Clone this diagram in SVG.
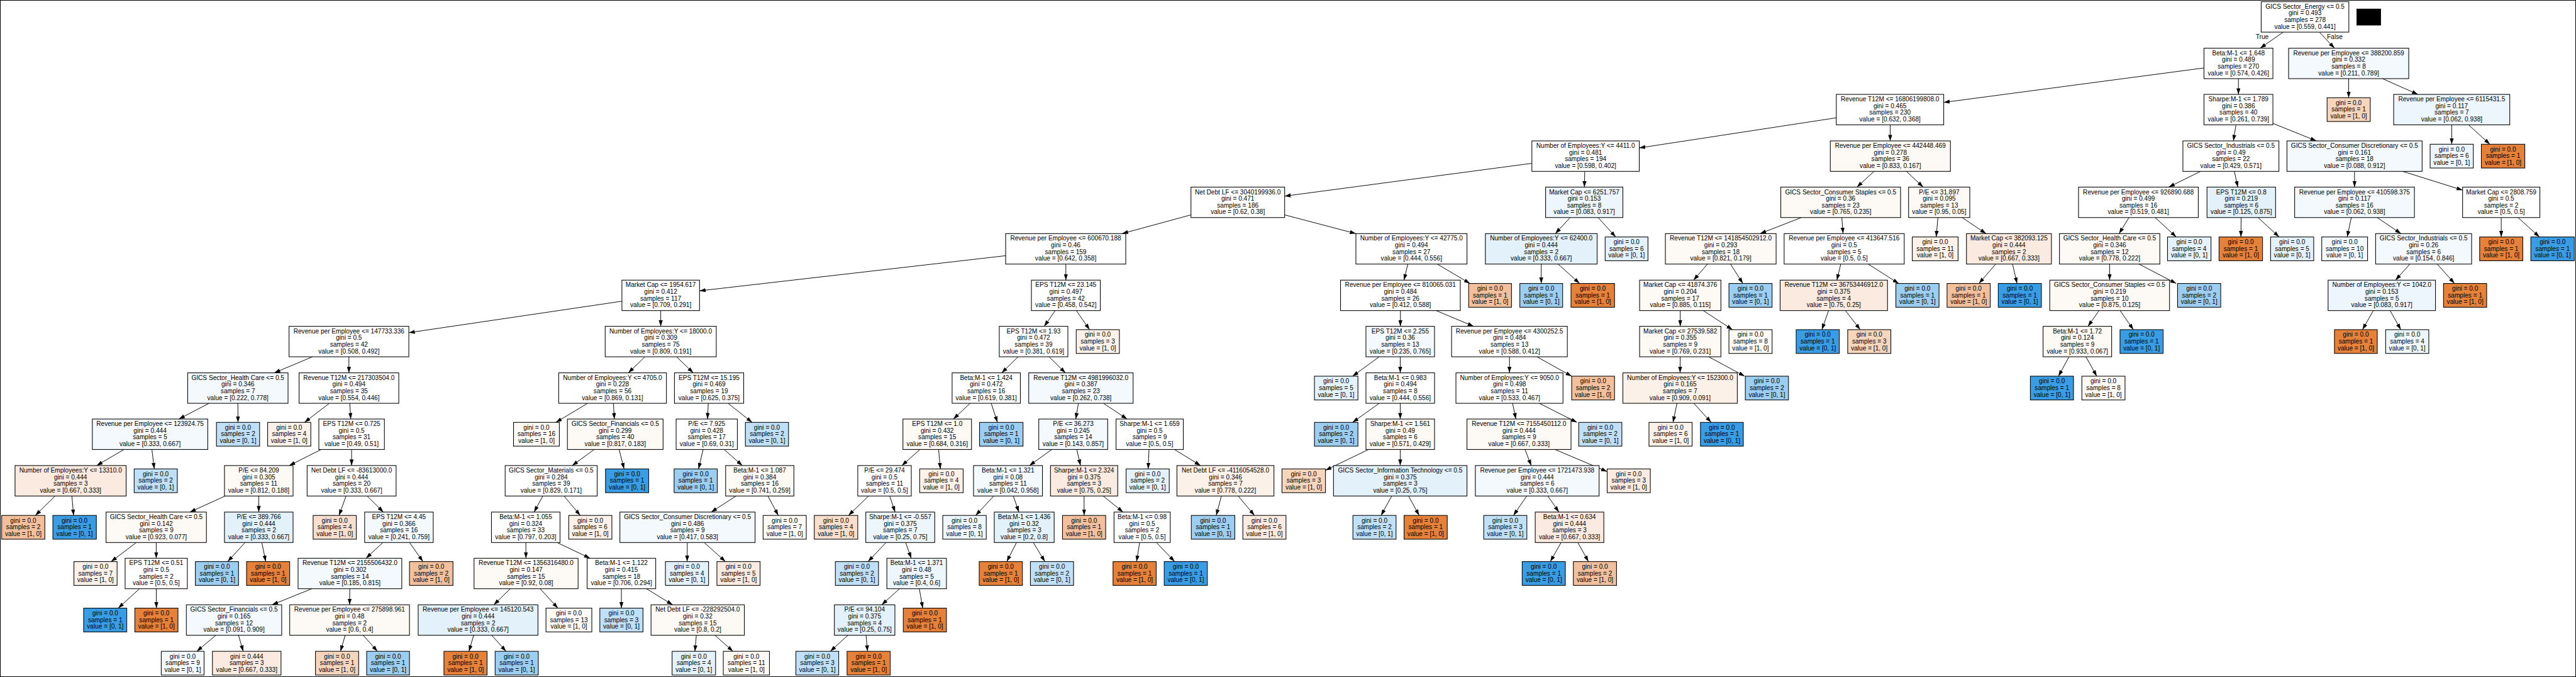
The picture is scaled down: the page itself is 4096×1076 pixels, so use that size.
<svg xmlns="http://www.w3.org/2000/svg" width="4096" height="1076" viewBox="0 0 4096 1076">
<style>
rect{stroke:#000;stroke-width:2}
text{font-family:"Liberation Sans",Arial,Helvetica,sans-serif;font-size:19px;text-anchor:middle;fill:#000}
.e{stroke:#000;stroke-width:1.8;fill:none;marker-end:url(#ah)}
.w{fill:#ffffff}.o1{fill:#fdf9f5}.o2{fill:#fcf1e9}.o3{fill:#fbeadf}.o4{fill:#f8dfcd}.o5{fill:#f6d5bd}.o6{fill:#f2c09c}.o7{fill:#e58139}
.b1{fill:#f4f9fe}.b2{fill:#edf6fd}.b3{fill:#e3f1fb}.b4{fill:#c0e0f7}.b5{fill:#9ccef2}.b6{fill:#399de5}
.blk{fill:#000;stroke:none}
</style>
<defs>
<marker id="ah" viewBox="0 0 18 12" refX="18" refY="6" markerWidth="18" markerHeight="12" markerUnits="userSpaceOnUse" orient="auto"><path d="M0,0 L18,6 L0,12 z" fill="#000"/></marker>
</defs>
<rect width="4096" height="1076" fill="#fff" stroke="none"/>
<g transform="scale(0.531948)">
<g id="connectors">
<path class="e" d="M6825,96L6756,144"/><path class="e" d="M6933,96L6978,144"/>
<path class="e" d="M6588,203L5810,306"/><path class="e" d="M6691,235L6691,282"/>
<path class="e" d="M7020.5,235L7020.5,292"/><path class="e" d="M7121.5,235L7227.5,282"/>
<path class="e" d="M5489,352L4900,442"/><path class="e" d="M5650,373L5650,421"/>
<path class="e" d="M6683.6,373L6675.9,421"/><path class="e" d="M6794,368.6L6924,421"/>
<path class="e" d="M7328.5,373L7328.5,431"/><path class="e" d="M7378.8,373L7442.7,431"/>
<path class="e" d="M4579,488L3840,586"/><path class="e" d="M4737,512L4736,559"/>
<path class="e" d="M5601.8,512L5550.7,559"/><path class="e" d="M5698.4,512L5748.6,559"/>
<path class="e" d="M6577.8,512L6482.7,559"/><path class="e" d="M6678.7,512L6689.3,559"/>
<path class="e" d="M7038,512L7038,559"/><path class="e" d="M7181.8,512L7361,568"/>
<path class="e" d="M3560,642L3354,698"/><path class="e" d="M3840,642L4053,698"/>
<path class="e" d="M4693.4,650L4649.1,698"/><path class="e" d="M4777,650L4829.6,708"/>
<path class="e" d="M5384.4,650L5261.1,698"/><path class="e" d="M5505.4,650L5509.1,698"/>
<path class="e" d="M5792.6,650L5787.6,708"/><path class="e" d="M5864.9,650L5936.6,698"/>
<path class="e" d="M6363.8,650L6334.2,698"/><path class="e" d="M6441.9,650L6505.1,708"/>
<path class="e" d="M6699,650L6698.4,708"/><path class="e" d="M6749.4,650L6812.6,708"/>
<path class="e" d="M7028.3,650L7016.1,708"/><path class="e" d="M7105.7,650L7176.8,698"/>
<path class="e" d="M7476.5,650L7476.5,708"/><path class="e" d="M7526.8,650L7590.7,708"/>
<path class="e" d="M3006,764L2091,869"/><path class="e" d="M3186,789L3186,837"/>
<path class="e" d="M4208.2,789L4196.8,837"/><path class="e" d="M4296.1,789L4393.8,847"/>
<path class="e" d="M4607,789L4607,847"/><path class="e" d="M4657.5,789L4721.6,847"/>
<path class="e" d="M5103.8,789L5062.2,837"/><path class="e" d="M5172.7,789L5209.7,847"/>
<path class="e" d="M5502.3,789L5490.7,837"/><path class="e" d="M5584.3,789L5675.4,847"/>
<path class="e" d="M5965.5,789L5915.3,847"/><path class="e" d="M6015.7,789L6029.2,847"/>
<path class="e" d="M6306,789L6306,837"/><path class="e" d="M6393.7,789L6505,847"/>
<path class="e" d="M7203.5,789L7160.5,837"/><path class="e" d="M7285.2,789L7336.8,847"/>
<path class="e" d="M1859,900L1222,994"/><path class="e" d="M1975,928L1975,975"/>
<path class="e" d="M3154.3,928L3121.2,975"/><path class="e" d="M3217.3,928L3257,985"/>
<path class="e" d="M4186,928L4186,975"/><path class="e" d="M4292.9,928L4405.1,975"/>
<path class="e" d="M5022.5,928L5022.5,975"/><path class="e" d="M5091.4,928L5178.7,985"/>
<path class="e" d="M5465.8,928L5445.8,985"/><path class="e" d="M5516.3,928L5560.4,985"/>
<path class="e" d="M6274.3,928L6241.2,975"/><path class="e" d="M6337.3,928L6377,985"/>
<path class="e" d="M7094.1,928L7061.8,985"/><path class="e" d="M7144.4,928L7176.4,985"/>
<path class="e" d="M934.1,1066L819.9,1114"/><path class="e" d="M1043,1066L1043,1114"/>
<path class="e" d="M1927.8,1066L1878.2,1114"/><path class="e" d="M2022.4,1066L2072.1,1114"/>
<path class="e" d="M3043.1,1066L2994.4,1114"/><path class="e" d="M3135.9,1066L3184.6,1114"/>
<path class="e" d="M4122.7,1066L4043,1124"/><path class="e" d="M4185.5,1066L4185.5,1114"/>
<path class="e" d="M4512,1066L4512,1114"/><path class="e" d="M4594,1066L4698,1124"/>
<path class="e" d="M5022.5,1066L5022,1114"/><path class="e" d="M5107.5,1066L5215.2,1124"/>
<path class="e" d="M6184.6,1066L6153,1124"/><path class="e" d="M6235.1,1066L6267.5,1124"/>
<path class="e" d="M624.9,1205L534.6,1252"/><path class="e" d="M711,1205L711.5,1262"/>
<path class="e" d="M984.5,1205L910.2,1262"/><path class="e" d="M1045.6,1205L1048.4,1252"/>
<path class="e" d="M1756.4,1205L1661.7,1262"/><path class="e" d="M1833.6,1205L1836.4,1252"/>
<path class="e" d="M2117.2,1205L2114.8,1252"/><path class="e" d="M2176.2,1205L2248.2,1262"/>
<path class="e" d="M2900,1205L2849.6,1252"/><path class="e" d="M2962.8,1205L2981.5,1262"/>
<path class="e" d="M3223.5,1205L3215.5,1252"/><path class="e" d="M3298.4,1205L3369.1,1252"/>
<path class="e" d="M4122.7,1205L4043,1262"/><path class="e" d="M4185.5,1205L4185.5,1252"/>
<path class="e" d="M4521.3,1205L4531.2,1252"/><path class="e" d="M4601.1,1205L4714,1262"/>
<path class="e" d="M5012.7,1205L5000.8,1262"/><path class="e" d="M5063,1205L5115,1262"/>
<path class="e" d="M370.6,1343L288.9,1391"/><path class="e" d="M454.1,1343L461.1,1401"/>
<path class="e" d="M960,1343L864.5,1391"/><path class="e" d="M1051,1343L1051,1391"/>
<path class="e" d="M1776.2,1343L1710.3,1391"/><path class="e" d="M1850.6,1343L1865.4,1401"/>
<path class="e" d="M2101.7,1343L2088,1401"/><path class="e" d="M2164.5,1343L2219,1391"/>
<path class="e" d="M2749.8,1343L2695.7,1391"/><path class="e" d="M2805.6,1343L2810.8,1401"/>
<path class="e" d="M3144,1343L3077,1391"/><path class="e" d="M3218.7,1343L3229.8,1391"/>
<path class="e" d="M3434.5,1343L3432,1401"/><path class="e" d="M3510.8,1343L3588.7,1391"/>
<path class="e" d="M4090.9,1343L3962,1405"/><path class="e" d="M4185.5,1343L4185.5,1391"/>
<path class="e" d="M4558.4,1343L4577.1,1391"/><path class="e" d="M4648.1,1343L4804,1409"/>
<path class="e" d="M164.6,1482L105.7,1540"/><path class="e" d="M214.9,1482L219.9,1540"/>
<path class="e" d="M673,1482L567.5,1530"/><path class="e" d="M773.5,1482L773.5,1530"/>
<path class="e" d="M1034.4,1482L1013.4,1540"/><path class="e" d="M1097.4,1482L1146.1,1530"/>
<path class="e" d="M1622.6,1482L1596.4,1530"/><path class="e" d="M1685.9,1482L1734.5,1540"/>
<path class="e" d="M2200.2,1482L2125.8,1530"/><path class="e" d="M2295.4,1482L2326.4,1540"/>
<path class="e" d="M2596.4,1482L2536.1,1540"/><path class="e" d="M2659.4,1482L2675.6,1530"/>
<path class="e" d="M2970.4,1482L2916.3,1540"/><path class="e" d="M3028.9,1482L3045.6,1530"/>
<path class="e" d="M3240.5,1482L3240.5,1540"/><path class="e" d="M3297.4,1482L3357.1,1530"/>
<path class="e" d="M3650.9,1482L3635.5,1540"/><path class="e" d="M3701.2,1482L3749.7,1540"/>
<path class="e" d="M4160.2,1482L4128.2,1540"/><path class="e" d="M4210.4,1482L4242.1,1540"/>
<path class="e" d="M4563.7,1482L4523.9,1540"/><path class="e" d="M4626.7,1482L4659.8,1530"/>
<path class="e" d="M407.5,1621L332,1678"/><path class="e" d="M467,1621L467,1668"/>
<path class="e" d="M732.5,1621L680.5,1678"/><path class="e" d="M782.7,1621L794.3,1678"/>
<path class="e" d="M1144.4,1621L1094.1,1668"/><path class="e" d="M1224.2,1621L1264.3,1678"/>
<path class="e" d="M1571.8,1621L1572.2,1668"/><path class="e" d="M1665.3,1621L1763.7,1668"/>
<path class="e" d="M2054.5,1621L2053.9,1678"/><path class="e" d="M2105,1621L2168.5,1678"/>
<path class="e" d="M2648.5,1621L2594.7,1678"/><path class="e" d="M2707.1,1621L2723.9,1668"/>
<path class="e" d="M3038.5,1621L3009.4,1678"/><path class="e" d="M3088.7,1621L3123.3,1678"/>
<path class="e" d="M3406.6,1621L3397.3,1678"/><path class="e" d="M3456.8,1621L3511.1,1678"/>
<path class="e" d="M4666.2,1621L4634.2,1678"/><path class="e" d="M4716.4,1621L4748.1,1678"/>
<path class="e" d="M417,1759L353.5,1817"/><path class="e" d="M467,1759L467.5,1817"/>
<path class="e" d="M932.3,1759L813.2,1807"/><path class="e" d="M1045.5,1759L1045,1807"/>
<path class="e" d="M1525.4,1759L1476.1,1807"/><path class="e" d="M1614.5,1759L1667.7,1817"/>
<path class="e" d="M1857.5,1759L1857.5,1817"/><path class="e" d="M1932.3,1759L2010.7,1807"/>
<path class="e" d="M2689,1759L2635.5,1807"/><path class="e" d="M2748,1759L2758.2,1817"/>
<path class="e" d="M645.3,1898L588.2,1946"/><path class="e" d="M712.9,1898L727.1,1946"/>
<path class="e" d="M1031.8,1898L1017.8,1946"/><path class="e" d="M1085.6,1898L1128.4,1946"/>
<path class="e" d="M1415.8,1898L1401.8,1946"/><path class="e" d="M1469.8,1898L1512.7,1946"/>
<path class="e" d="M2081.4,1898L2077.2,1946"/><path class="e" d="M2136.9,1898L2191,1946"/>
<path class="e" d="M2534.5,1898L2481.9,1946"/><path class="e" d="M2588.7,1898L2593.2,1946"/>
<text x="6762" y="116">True</text><text x="6979" y="116">False</text>
</g>
<rect class="blk" x="7044" y="26" width="73" height="50"/>
<g id="n0"><rect class="w" x="6759" y="5" width="262" height="91"/><text x="6890" y="26"><tspan x="6890">GICS Sector_Energy &lt;= 0.5</tspan><tspan x="6890" dy="20">gini = 0.493</tspan><tspan x="6890" dy="20">samples = 278</tspan><tspan x="6890" dy="20">value = [0.559, 0.441]</tspan></text></g>
<g id="n1"><rect class="w" x="6588" y="144" width="206" height="91"/><text x="6691" y="165"><tspan x="6691">Beta:M-1 &lt;= 1.648</tspan><tspan x="6691" dy="20">gini = 0.489</tspan><tspan x="6691" dy="20">samples = 270</tspan><tspan x="6691" dy="20">value = [0.574, 0.426]</tspan></text></g>
<g id="n2"><rect class="b1" x="6841" y="144" width="359" height="91"/><text x="7020.5" y="165"><tspan x="7020.5">Revenue per Employee &lt;= 388200.859</tspan><tspan x="7020.5" dy="20">gini = 0.332</tspan><tspan x="7020.5" dy="20">samples = 8</tspan><tspan x="7020.5" dy="20">value = [0.211, 0.789]</tspan></text></g>
<g id="n3"><rect class="w" x="5489" y="282" width="321" height="91"/><text x="5649.5" y="303"><tspan x="5649.5">Revenue T12M &lt;= 16806199808.0</tspan><tspan x="5649.5" dy="20">gini = 0.465</tspan><tspan x="5649.5" dy="20">samples = 230</tspan><tspan x="5649.5" dy="20">value = [0.632, 0.368]</tspan></text></g>
<g id="n4"><rect class="w" x="6588" y="282" width="206" height="91"/><text x="6691" y="303"><tspan x="6691">Sharpe:M-1 &lt;= 1.789</tspan><tspan x="6691" dy="20">gini = 0.386</tspan><tspan x="6691" dy="20">samples = 40</tspan><tspan x="6691" dy="20">value = [0.261, 0.739]</tspan></text></g>
<g id="n5"><rect class="o5" x="6956" y="292" width="129" height="71"/><text x="7020.5" y="313.5"><tspan x="7020.5">gini = 0.0</tspan><tspan x="7020.5" dy="20">samples = 1</tspan><tspan x="7020.5" dy="20">value = [1, 0]</tspan></text></g>
<g id="n6"><rect class="b2" x="7155" y="282" width="347" height="91"/><text x="7328.5" y="303"><tspan x="7328.5">Revenue per Employee &lt;= 6115431.5</tspan><tspan x="7328.5" dy="20">gini = 0.117</tspan><tspan x="7328.5" dy="20">samples = 7</tspan><tspan x="7328.5" dy="20">value = [0.062, 0.938]</tspan></text></g>
<g id="n7"><rect class="w" x="4579" y="421" width="321" height="91"/><text x="4739.5" y="442"><tspan x="4739.5">Number of Employees:Y &lt;= 4411.0</tspan><tspan x="4739.5" dy="20">gini = 0.481</tspan><tspan x="4739.5" dy="20">samples = 194</tspan><tspan x="4739.5" dy="20">value = [0.598, 0.402]</tspan></text></g>
<g id="n8"><rect class="o1" x="5471" y="421" width="359" height="91"/><text x="5650.5" y="442"><tspan x="5650.5">Revenue per Employee &lt;= 442448.469</tspan><tspan x="5650.5" dy="20">gini = 0.278</tspan><tspan x="5650.5" dy="20">samples = 36</tspan><tspan x="5650.5" dy="20">value = [0.833, 0.167]</tspan></text></g>
<g id="n9"><rect class="w" x="6525" y="421" width="287" height="91"/><text x="6668.5" y="442"><tspan x="6668.5">GICS Sector_Industrials &lt;= 0.5</tspan><tspan x="6668.5" dy="20">gini = 0.49</tspan><tspan x="6668.5" dy="20">samples = 22</tspan><tspan x="6668.5" dy="20">value = [0.429, 0.571]</tspan></text></g>
<g id="n10"><rect class="b1" x="6836" y="421" width="404" height="91"/><text x="7038" y="442"><tspan x="7038">GICS Sector_Consumer Discretionary &lt;= 0.5</tspan><tspan x="7038" dy="20">gini = 0.161</tspan><tspan x="7038" dy="20">samples = 18</tspan><tspan x="7038" dy="20">value = [0.088, 0.912]</tspan></text></g>
<g id="n11"><rect class="b2" x="7264" y="431" width="129" height="71"/><text x="7328.5" y="452.5"><tspan x="7328.5">gini = 0.0</tspan><tspan x="7328.5" dy="20">samples = 6</tspan><tspan x="7328.5" dy="20">value = [0, 1]</tspan></text></g>
<g id="n12"><rect class="o7" x="7417" y="431" width="130" height="71"/><text x="7482" y="452.5"><tspan x="7482">gini = 0.0</tspan><tspan x="7482" dy="20">samples = 1</tspan><tspan x="7482" dy="20">value = [1, 0]</tspan></text></g>
<g id="n13"><rect class="w" x="3560" y="559" width="280" height="91"/><text x="3700" y="580"><tspan x="3700">Net Debt LF &lt;= 3040199936.0</tspan><tspan x="3700" dy="20">gini = 0.471</tspan><tspan x="3700" dy="20">samples = 186</tspan><tspan x="3700" dy="20">value = [0.62, 0.38]</tspan></text></g>
<g id="n14"><rect class="b2" x="4620" y="559" width="231" height="91"/><text x="4735.5" y="580"><tspan x="4735.5">Market Cap &lt;= 6251.757</tspan><tspan x="4735.5" dy="20">gini = 0.153</tspan><tspan x="4735.5" dy="20">samples = 8</tspan><tspan x="4735.5" dy="20">value = [0.083, 0.917]</tspan></text></g>
<g id="n15"><rect class="o1" x="5323" y="559" width="358" height="91"/><text x="5502" y="580"><tspan x="5502">GICS Sector_Consumer Staples &lt;= 0.5</tspan><tspan x="5502" dy="20">gini = 0.36</tspan><tspan x="5502" dy="20">samples = 23</tspan><tspan x="5502" dy="20">value = [0.765, 0.235]</tspan></text></g>
<g id="n16"><rect class="o1" x="5705" y="559" width="183" height="91"/><text x="5796.5" y="580"><tspan x="5796.5">P/E &lt;= 31.897</tspan><tspan x="5796.5" dy="20">gini = 0.095</tspan><tspan x="5796.5" dy="20">samples = 13</tspan><tspan x="5796.5" dy="20">value = [0.95, 0.05]</tspan></text></g>
<g id="n17"><rect class="w" x="6213" y="559" width="358" height="91"/><text x="6392" y="580"><tspan x="6392">Revenue per Employee &lt;= 926890.688</tspan><tspan x="6392" dy="20">gini = 0.499</tspan><tspan x="6392" dy="20">samples = 16</tspan><tspan x="6392" dy="20">value = [0.519, 0.481]</tspan></text></g>
<g id="n18"><rect class="b3" x="6597" y="559" width="205" height="91"/><text x="6699.5" y="580"><tspan x="6699.5">EPS T12M &lt;= 0.8</tspan><tspan x="6699.5" dy="20">gini = 0.219</tspan><tspan x="6699.5" dy="20">samples = 6</tspan><tspan x="6699.5" dy="20">value = [0.125, 0.875]</tspan></text></g>
<g id="n19"><rect class="b1" x="6859" y="559" width="358" height="91"/><text x="7038" y="580"><tspan x="7038">Revenue per Employee &lt;= 410598.375</tspan><tspan x="7038" dy="20">gini = 0.117</tspan><tspan x="7038" dy="20">samples = 16</tspan><tspan x="7038" dy="20">value = [0.062, 0.938]</tspan></text></g>
<g id="n20"><rect class="w" x="7361" y="559" width="231" height="91"/><text x="7476.5" y="580"><tspan x="7476.5">Market Cap &lt;= 2808.759</tspan><tspan x="7476.5" dy="20">gini = 0.5</tspan><tspan x="7476.5" dy="20">samples = 2</tspan><tspan x="7476.5" dy="20">value = [0.5, 0.5]</tspan></text></g>
<g id="n21"><rect class="w" x="3006" y="698" width="359" height="91"/><text x="3185.5" y="719"><tspan x="3185.5">Revenue per Employee &lt;= 600670.188</tspan><tspan x="3185.5" dy="20">gini = 0.46</tspan><tspan x="3185.5" dy="20">samples = 159</tspan><tspan x="3185.5" dy="20">value = [0.642, 0.358]</tspan></text></g>
<g id="n22"><rect class="w" x="4053" y="698" width="332" height="91"/><text x="4219" y="719"><tspan x="4219">Number of Employees:Y &lt;= 42775.0</tspan><tspan x="4219" dy="20">gini = 0.494</tspan><tspan x="4219" dy="20">samples = 27</tspan><tspan x="4219" dy="20">value = [0.444, 0.556]</tspan></text></g>
<g id="n23"><rect class="b3" x="4440" y="698" width="334" height="91"/><text x="4607" y="719"><tspan x="4607">Number of Employees:Y &lt;= 62400.0</tspan><tspan x="4607" dy="20">gini = 0.444</tspan><tspan x="4607" dy="20">samples = 2</tspan><tspan x="4607" dy="20">value = [0.333, 0.667]</tspan></text></g>
<g id="n24"><rect class="b3" x="4798" y="708" width="128" height="71"/><text x="4862" y="729.5"><tspan x="4862">gini = 0.0</tspan><tspan x="4862" dy="20">samples = 6</tspan><tspan x="4862" dy="20">value = [0, 1]</tspan></text></g>
<g id="n25"><rect class="o1" x="4978" y="698" width="331" height="91"/><text x="5143.5" y="719"><tspan x="5143.5">Revenue T12M &lt;= 141854502912.0</tspan><tspan x="5143.5" dy="20">gini = 0.293</tspan><tspan x="5143.5" dy="20">samples = 18</tspan><tspan x="5143.5" dy="20">value = [0.821, 0.179]</tspan></text></g>
<g id="n26"><rect class="w" x="5333" y="698" width="359" height="91"/><text x="5512.5" y="719"><tspan x="5512.5">Revenue per Employee &lt;= 413647.516</tspan><tspan x="5512.5" dy="20">gini = 0.5</tspan><tspan x="5512.5" dy="20">samples = 5</tspan><tspan x="5512.5" dy="20">value = [0.5, 0.5]</tspan></text></g>
<g id="n27"><rect class="o2" x="5716" y="708" width="137" height="71"/><text x="5784.5" y="729.5"><tspan x="5784.5">gini = 0.0</tspan><tspan x="5784.5" dy="20">samples = 11</tspan><tspan x="5784.5" dy="20">value = [1, 0]</tspan></text></g>
<g id="n28"><rect class="o3" x="5878" y="698" width="254" height="91"/><text x="6005" y="719"><tspan x="6005">Market Cap &lt;= 382093.125</tspan><tspan x="6005" dy="20">gini = 0.444</tspan><tspan x="6005" dy="20">samples = 2</tspan><tspan x="6005" dy="20">value = [0.667, 0.333]</tspan></text></g>
<g id="n29"><rect class="o1" x="6156" y="698" width="300" height="91"/><text x="6306" y="719"><tspan x="6306">GICS Sector_Health Care &lt;= 0.5</tspan><tspan x="6306" dy="20">gini = 0.346</tspan><tspan x="6306" dy="20">samples = 12</tspan><tspan x="6306" dy="20">value = [0.778, 0.222]</tspan></text></g>
<g id="n30"><rect class="b3" x="6479" y="708" width="130" height="71"/><text x="6544" y="729.5"><tspan x="6544">gini = 0.0</tspan><tspan x="6544" dy="20">samples = 4</tspan><tspan x="6544" dy="20">value = [0, 1]</tspan></text></g>
<g id="n31"><rect class="o7" x="6633" y="708" width="130" height="71"/><text x="6698" y="729.5"><tspan x="6698">gini = 0.0</tspan><tspan x="6698" dy="20">samples = 1</tspan><tspan x="6698" dy="20">value = [1, 0]</tspan></text></g>
<g id="n32"><rect class="b3" x="6787" y="708" width="129" height="71"/><text x="6851.5" y="729.5"><tspan x="6851.5">gini = 0.0</tspan><tspan x="6851.5" dy="20">samples = 5</tspan><tspan x="6851.5" dy="20">value = [0, 1]</tspan></text></g>
<g id="n33"><rect class="b1" x="6940" y="708" width="137" height="71"/><text x="7008.5" y="729.5"><tspan x="7008.5">gini = 0.0</tspan><tspan x="7008.5" dy="20">samples = 10</tspan><tspan x="7008.5" dy="20">value = [0, 1]</tspan></text></g>
<g id="n34"><rect class="b1" x="7101" y="698" width="287" height="91"/><text x="7244.5" y="719"><tspan x="7244.5">GICS Sector_Industrials &lt;= 0.5</tspan><tspan x="7244.5" dy="20">gini = 0.26</tspan><tspan x="7244.5" dy="20">samples = 6</tspan><tspan x="7244.5" dy="20">value = [0.154, 0.846]</tspan></text></g>
<g id="n35"><rect class="o7" x="7412" y="708" width="129" height="71"/><text x="7476.5" y="729.5"><tspan x="7476.5">gini = 0.0</tspan><tspan x="7476.5" dy="20">samples = 1</tspan><tspan x="7476.5" dy="20">value = [1, 0]</tspan></text></g>
<g id="n36"><rect class="b6" x="7565" y="708" width="130" height="71"/><text x="7630" y="729.5"><tspan x="7630">gini = 0.0</tspan><tspan x="7630" dy="20">samples = 1</tspan><tspan x="7630" dy="20">value = [0, 1]</tspan></text></g>
<g id="n37"><rect class="w" x="1859" y="837" width="232" height="91"/><text x="1975" y="858"><tspan x="1975">Market Cap &lt;= 1954.617</tspan><tspan x="1975" dy="20">gini = 0.412</tspan><tspan x="1975" dy="20">samples = 117</tspan><tspan x="1975" dy="20">value = [0.709, 0.291]</tspan></text></g>
<g id="n38"><rect class="w" x="3083" y="837" width="206" height="91"/><text x="3186" y="858"><tspan x="3186">EPS T12M &lt;= 23.145</tspan><tspan x="3186" dy="20">gini = 0.497</tspan><tspan x="3186" dy="20">samples = 42</tspan><tspan x="3186" dy="20">value = [0.458, 0.542]</tspan></text></g>
<g id="n39"><rect class="w" x="4007" y="837" width="358" height="91"/><text x="4186" y="858"><tspan x="4186">Revenue per Employee &lt;= 810065.031</tspan><tspan x="4186" dy="20">gini = 0.484</tspan><tspan x="4186" dy="20">samples = 26</tspan><tspan x="4186" dy="20">value = [0.412, 0.588]</tspan></text></g>
<g id="n40"><rect class="o6" x="4390" y="847" width="128" height="71"/><text x="4454" y="868.5"><tspan x="4454">gini = 0.0</tspan><tspan x="4454" dy="20">samples = 1</tspan><tspan x="4454" dy="20">value = [1, 0]</tspan></text></g>
<g id="n41"><rect class="b5" x="4543" y="847" width="128" height="71"/><text x="4607" y="868.5"><tspan x="4607">gini = 0.0</tspan><tspan x="4607" dy="20">samples = 1</tspan><tspan x="4607" dy="20">value = [0, 1]</tspan></text></g>
<g id="n42"><rect class="o7" x="4696" y="847" width="130" height="71"/><text x="4761" y="868.5"><tspan x="4761">gini = 0.0</tspan><tspan x="4761" dy="20">samples = 1</tspan><tspan x="4761" dy="20">value = [1, 0]</tspan></text></g>
<g id="n43"><rect class="o1" x="4901" y="837" width="243" height="91"/><text x="5022.5" y="858"><tspan x="5022.5">Market Cap &lt;= 41874.376</tspan><tspan x="5022.5" dy="20">gini = 0.204</tspan><tspan x="5022.5" dy="20">samples = 17</tspan><tspan x="5022.5" dy="20">value = [0.885, 0.115]</tspan></text></g>
<g id="n44"><rect class="b5" x="5168" y="847" width="129" height="71"/><text x="5232.5" y="868.5"><tspan x="5232.5">gini = 0.0</tspan><tspan x="5232.5" dy="20">samples = 1</tspan><tspan x="5232.5" dy="20">value = [0, 1]</tspan></text></g>
<g id="n45"><rect class="o3" x="5321" y="837" width="321" height="91"/><text x="5481.5" y="858"><tspan x="5481.5">Revenue T12M &lt;= 36753446912.0</tspan><tspan x="5481.5" dy="20">gini = 0.375</tspan><tspan x="5481.5" dy="20">samples = 4</tspan><tspan x="5481.5" dy="20">value = [0.75, 0.25]</tspan></text></g>
<g id="n46"><rect class="b5" x="5667" y="847" width="129" height="71"/><text x="5731.5" y="868.5"><tspan x="5731.5">gini = 0.0</tspan><tspan x="5731.5" dy="20">samples = 1</tspan><tspan x="5731.5" dy="20">value = [0, 1]</tspan></text></g>
<g id="n47"><rect class="o6" x="5820" y="847" width="129" height="71"/><text x="5884.5" y="868.5"><tspan x="5884.5">gini = 0.0</tspan><tspan x="5884.5" dy="20">samples = 1</tspan><tspan x="5884.5" dy="20">value = [1, 0]</tspan></text></g>
<g id="n48"><rect class="b6" x="5973" y="847" width="129" height="71"/><text x="6037.5" y="868.5"><tspan x="6037.5">gini = 0.0</tspan><tspan x="6037.5" dy="20">samples = 1</tspan><tspan x="6037.5" dy="20">value = [0, 1]</tspan></text></g>
<g id="n49"><rect class="o1" x="6127" y="837" width="358" height="91"/><text x="6306" y="858"><tspan x="6306">GICS Sector_Consumer Staples &lt;= 0.5</tspan><tspan x="6306" dy="20">gini = 0.219</tspan><tspan x="6306" dy="20">samples = 10</tspan><tspan x="6306" dy="20">value = [0.875, 0.125]</tspan></text></g>
<g id="n50"><rect class="b5" x="6509" y="847" width="129" height="71"/><text x="6573.5" y="868.5"><tspan x="6573.5">gini = 0.0</tspan><tspan x="6573.5" dy="20">samples = 2</tspan><tspan x="6573.5" dy="20">value = [0, 1]</tspan></text></g>
<g id="n51"><rect class="b2" x="6959" y="837" width="321" height="91"/><text x="7119.5" y="858"><tspan x="7119.5">Number of Employees:Y &lt;= 1042.0</tspan><tspan x="7119.5" dy="20">gini = 0.153</tspan><tspan x="7119.5" dy="20">samples = 5</tspan><tspan x="7119.5" dy="20">value = [0.083, 0.917]</tspan></text></g>
<g id="n52"><rect class="o7" x="7304" y="847" width="129" height="71"/><text x="7368.5" y="868.5"><tspan x="7368.5">gini = 0.0</tspan><tspan x="7368.5" dy="20">samples = 1</tspan><tspan x="7368.5" dy="20">value = [1, 0]</tspan></text></g>
<g id="n53"><rect class="w" x="864" y="975" width="358" height="91"/><text x="1043" y="996"><tspan x="1043">Revenue per Employee &lt;= 147733.336</tspan><tspan x="1043" dy="20">gini = 0.5</tspan><tspan x="1043" dy="20">samples = 42</tspan><tspan x="1043" dy="20">value = [0.508, 0.492]</tspan></text></g>
<g id="n54"><rect class="w" x="1809" y="975" width="332" height="91"/><text x="1975" y="996"><tspan x="1975">Number of Employees:Y &lt;= 18000.0</tspan><tspan x="1975" dy="20">gini = 0.309</tspan><tspan x="1975" dy="20">samples = 75</tspan><tspan x="1975" dy="20">value = [0.809, 0.191]</tspan></text></g>
<g id="n55"><rect class="w" x="2987" y="975" width="205" height="91"/><text x="3089.5" y="996"><tspan x="3089.5">EPS T12M &lt;= 1.93</tspan><tspan x="3089.5" dy="20">gini = 0.472</tspan><tspan x="3089.5" dy="20">samples = 39</tspan><tspan x="3089.5" dy="20">value = [0.381, 0.619]</tspan></text></g>
<g id="n56"><rect class="o2" x="3217" y="985" width="129" height="71"/><text x="3281.5" y="1006.5"><tspan x="3281.5">gini = 0.0</tspan><tspan x="3281.5" dy="20">samples = 3</tspan><tspan x="3281.5" dy="20">value = [1, 0]</tspan></text></g>
<g id="n57"><rect class="b1" x="4083" y="975" width="205" height="91"/><text x="4185.5" y="996"><tspan x="4185.5">EPS T12M &lt;= 2.255</tspan><tspan x="4185.5" dy="20">gini = 0.36</tspan><tspan x="4185.5" dy="20">samples = 13</tspan><tspan x="4185.5" dy="20">value = [0.235, 0.765]</tspan></text></g>
<g id="n58"><rect class="w" x="4339" y="975" width="346" height="91"/><text x="4512" y="996"><tspan x="4512">Revenue per Employee &lt;= 4300252.5</tspan><tspan x="4512" dy="20">gini = 0.484</tspan><tspan x="4512" dy="20">samples = 13</tspan><tspan x="4512" dy="20">value = [0.588, 0.412]</tspan></text></g>
<g id="n59"><rect class="o1" x="4901" y="975" width="243" height="91"/><text x="5022.5" y="996"><tspan x="5022.5">Market Cap &lt;= 27539.582</tspan><tspan x="5022.5" dy="20">gini = 0.355</tspan><tspan x="5022.5" dy="20">samples = 9</tspan><tspan x="5022.5" dy="20">value = [0.769, 0.231]</tspan></text></g>
<g id="n60"><rect class="o1" x="5168" y="985" width="129" height="71"/><text x="5232.5" y="1006.5"><tspan x="5232.5">gini = 0.0</tspan><tspan x="5232.5" dy="20">samples = 8</tspan><tspan x="5232.5" dy="20">value = [1, 0]</tspan></text></g>
<g id="n61"><rect class="b6" x="5369" y="985" width="129" height="71"/><text x="5433.5" y="1006.5"><tspan x="5433.5">gini = 0.0</tspan><tspan x="5433.5" dy="20">samples = 1</tspan><tspan x="5433.5" dy="20">value = [0, 1]</tspan></text></g>
<g id="n62"><rect class="o5" x="5523" y="985" width="129" height="71"/><text x="5587.5" y="1006.5"><tspan x="5587.5">gini = 0.0</tspan><tspan x="5587.5" dy="20">samples = 3</tspan><tspan x="5587.5" dy="20">value = [1, 0]</tspan></text></g>
<g id="n63"><rect class="o1" x="6107" y="975" width="205" height="91"/><text x="6209.5" y="996"><tspan x="6209.5">Beta:M-1 &lt;= 1.72</tspan><tspan x="6209.5" dy="20">gini = 0.124</tspan><tspan x="6209.5" dy="20">samples = 9</tspan><tspan x="6209.5" dy="20">value = [0.933, 0.067]</tspan></text></g>
<g id="n64"><rect class="b6" x="6337" y="985" width="129" height="71"/><text x="6401.5" y="1006.5"><tspan x="6401.5">gini = 0.0</tspan><tspan x="6401.5" dy="20">samples = 1</tspan><tspan x="6401.5" dy="20">value = [0, 1]</tspan></text></g>
<g id="n65"><rect class="o7" x="6978" y="985" width="128" height="71"/><text x="7042" y="1006.5"><tspan x="7042">gini = 0.0</tspan><tspan x="7042" dy="20">samples = 1</tspan><tspan x="7042" dy="20">value = [1, 0]</tspan></text></g>
<g id="n66"><rect class="b2" x="7131" y="985" width="129" height="71"/><text x="7195.5" y="1006.5"><tspan x="7195.5">gini = 0.0</tspan><tspan x="7195.5" dy="20">samples = 4</tspan><tspan x="7195.5" dy="20">value = [0, 1]</tspan></text></g>
<g id="n67"><rect class="b1" x="561" y="1114" width="300" height="91"/><text x="711" y="1135"><tspan x="711">GICS Sector_Health Care &lt;= 0.5</tspan><tspan x="711" dy="20">gini = 0.346</tspan><tspan x="711" dy="20">samples = 7</tspan><tspan x="711" dy="20">value = [0.222, 0.778]</tspan></text></g>
<g id="n68"><rect class="w" x="894" y="1114" width="298" height="91"/><text x="1043" y="1135"><tspan x="1043">Revenue T12M &lt;= 217303504.0</tspan><tspan x="1043" dy="20">gini = 0.494</tspan><tspan x="1043" dy="20">samples = 35</tspan><tspan x="1043" dy="20">value = [0.554, 0.446]</tspan></text></g>
<g id="n69"><rect class="w" x="1670" y="1114" width="322" height="91"/><text x="1831" y="1135"><tspan x="1831">Number of Employees:Y &lt;= 4705.0</tspan><tspan x="1831" dy="20">gini = 0.228</tspan><tspan x="1831" dy="20">samples = 56</tspan><tspan x="1831" dy="20">value = [0.869, 0.131]</tspan></text></g>
<g id="n70"><rect class="w" x="2016" y="1114" width="207" height="91"/><text x="2119.5" y="1135"><tspan x="2119.5">EPS T12M &lt;= 15.195</tspan><tspan x="2119.5" dy="20">gini = 0.469</tspan><tspan x="2119.5" dy="20">samples = 19</tspan><tspan x="2119.5" dy="20">value = [0.625, 0.375]</tspan></text></g>
<g id="n71"><rect class="w" x="2846" y="1114" width="204" height="91"/><text x="2948" y="1135"><tspan x="2948">Beta:M-1 &lt;= 1.424</tspan><tspan x="2948" dy="20">gini = 0.472</tspan><tspan x="2948" dy="20">samples = 16</tspan><tspan x="2948" dy="20">value = [0.619, 0.381]</tspan></text></g>
<g id="n72"><rect class="b1" x="3075" y="1114" width="312" height="91"/><text x="3231" y="1135"><tspan x="3231">Revenue T12M &lt;= 4981996032.0</tspan><tspan x="3231" dy="20">gini = 0.387</tspan><tspan x="3231" dy="20">samples = 23</tspan><tspan x="3231" dy="20">value = [0.262, 0.738]</tspan></text></g>
<g id="n73"><rect class="b3" x="3929" y="1124" width="130" height="71"/><text x="3994" y="1145.5"><tspan x="3994">gini = 0.0</tspan><tspan x="3994" dy="20">samples = 5</tspan><tspan x="3994" dy="20">value = [0, 1]</tspan></text></g>
<g id="n74"><rect class="w" x="4083" y="1114" width="205" height="91"/><text x="4185.5" y="1135"><tspan x="4185.5">Beta:M-1 &lt;= 0.983</tspan><tspan x="4185.5" dy="20">gini = 0.494</tspan><tspan x="4185.5" dy="20">samples = 8</tspan><tspan x="4185.5" dy="20">value = [0.444, 0.556]</tspan></text></g>
<g id="n75"><rect class="w" x="4352" y="1114" width="320" height="91"/><text x="4512" y="1135"><tspan x="4512">Number of Employees:Y &lt;= 9050.0</tspan><tspan x="4512" dy="20">gini = 0.498</tspan><tspan x="4512" dy="20">samples = 11</tspan><tspan x="4512" dy="20">value = [0.533, 0.467]</tspan></text></g>
<g id="n76"><rect class="o6" x="4698" y="1124" width="128" height="71"/><text x="4762" y="1145.5"><tspan x="4762">gini = 0.0</tspan><tspan x="4762" dy="20">samples = 2</tspan><tspan x="4762" dy="20">value = [1, 0]</tspan></text></g>
<g id="n77"><rect class="o2" x="4851" y="1114" width="342" height="91"/><text x="5022" y="1135"><tspan x="5022">Number of Employees:Y &lt;= 152300.0</tspan><tspan x="5022" dy="20">gini = 0.165</tspan><tspan x="5022" dy="20">samples = 7</tspan><tspan x="5022" dy="20">value = [0.909, 0.091]</tspan></text></g>
<g id="n78"><rect class="b5" x="5217" y="1124" width="129" height="71"/><text x="5281.5" y="1145.5"><tspan x="5281.5">gini = 0.0</tspan><tspan x="5281.5" dy="20">samples = 2</tspan><tspan x="5281.5" dy="20">value = [0, 1]</tspan></text></g>
<g id="n79"><rect class="b6" x="6069" y="1124" width="129" height="71"/><text x="6133.5" y="1145.5"><tspan x="6133.5">gini = 0.0</tspan><tspan x="6133.5" dy="20">samples = 1</tspan><tspan x="6133.5" dy="20">value = [0, 1]</tspan></text></g>
<g id="n80"><rect class="o1" x="6223" y="1124" width="129" height="71"/><text x="6287.5" y="1145.5"><tspan x="6287.5">gini = 0.0</tspan><tspan x="6287.5" dy="20">samples = 8</tspan><tspan x="6287.5" dy="20">value = [1, 0]</tspan></text></g>
<g id="n81"><rect class="b1" x="276" y="1252" width="345" height="91"/><text x="448.5" y="1273"><tspan x="448.5">Revenue per Employee &lt;= 123924.75</tspan><tspan x="448.5" dy="20">gini = 0.444</tspan><tspan x="448.5" dy="20">samples = 5</tspan><tspan x="448.5" dy="20">value = [0.333, 0.667]</tspan></text></g>
<g id="n82"><rect class="b4" x="647" y="1262" width="129" height="71"/><text x="711.5" y="1283.5"><tspan x="711.5">gini = 0.0</tspan><tspan x="711.5" dy="20">samples = 2</tspan><tspan x="711.5" dy="20">value = [0, 1]</tspan></text></g>
<g id="n83"><rect class="o2" x="800" y="1262" width="129" height="71"/><text x="864.5" y="1283.5"><tspan x="864.5">gini = 0.0</tspan><tspan x="864.5" dy="20">samples = 4</tspan><tspan x="864.5" dy="20">value = [1, 0]</tspan></text></g>
<g id="n84"><rect class="w" x="953" y="1252" width="196" height="91"/><text x="1051" y="1273"><tspan x="1051">EPS T12M &lt;= 0.725</tspan><tspan x="1051" dy="20">gini = 0.5</tspan><tspan x="1051" dy="20">samples = 31</tspan><tspan x="1051" dy="20">value = [0.49, 0.51]</tspan></text></g>
<g id="n85"><rect class="o1" x="1535" y="1262" width="137" height="71"/><text x="1603.5" y="1283.5"><tspan x="1603.5">gini = 0.0</tspan><tspan x="1603.5" dy="20">samples = 16</tspan><tspan x="1603.5" dy="20">value = [1, 0]</tspan></text></g>
<g id="n86"><rect class="o1" x="1696" y="1252" width="286" height="91"/><text x="1839" y="1273"><tspan x="1839">GICS Sector_Financials &lt;= 0.5</tspan><tspan x="1839" dy="20">gini = 0.299</tspan><tspan x="1839" dy="20">samples = 40</tspan><tspan x="1839" dy="20">value = [0.817, 0.183]</tspan></text></g>
<g id="n87"><rect class="w" x="2021" y="1252" width="183" height="91"/><text x="2112.5" y="1273"><tspan x="2112.5">P/E &lt;= 7.925</tspan><tspan x="2112.5" dy="20">gini = 0.428</tspan><tspan x="2112.5" dy="20">samples = 17</tspan><tspan x="2112.5" dy="20">value = [0.69, 0.31]</tspan></text></g>
<g id="n88"><rect class="b4" x="2228" y="1262" width="129" height="71"/><text x="2292.5" y="1283.5"><tspan x="2292.5">gini = 0.0</tspan><tspan x="2292.5" dy="20">samples = 2</tspan><tspan x="2292.5" dy="20">value = [0, 1]</tspan></text></g>
<g id="n89"><rect class="o1" x="2699" y="1252" width="205" height="91"/><text x="2801.5" y="1273"><tspan x="2801.5">EPS T12M &lt;= 1.0</tspan><tspan x="2801.5" dy="20">gini = 0.432</tspan><tspan x="2801.5" dy="20">samples = 15</tspan><tspan x="2801.5" dy="20">value = [0.684, 0.316]</tspan></text></g>
<g id="n90"><rect class="b5" x="2928" y="1262" width="130" height="71"/><text x="2993" y="1283.5"><tspan x="2993">gini = 0.0</tspan><tspan x="2993" dy="20">samples = 1</tspan><tspan x="2993" dy="20">value = [0, 1]</tspan></text></g>
<g id="n91"><rect class="b1" x="3105" y="1252" width="206" height="91"/><text x="3208" y="1273"><tspan x="3208">P/E &lt;= 36.273</tspan><tspan x="3208" dy="20">gini = 0.245</tspan><tspan x="3208" dy="20">samples = 14</tspan><tspan x="3208" dy="20">value = [0.143, 0.857]</tspan></text></g>
<g id="n92"><rect class="w" x="3336" y="1252" width="201" height="91"/><text x="3436.5" y="1273"><tspan x="3436.5">Sharpe:M-1 &lt;= 1.659</tspan><tspan x="3436.5" dy="20">gini = 0.5</tspan><tspan x="3436.5" dy="20">samples = 9</tspan><tspan x="3436.5" dy="20">value = [0.5, 0.5]</tspan></text></g>
<g id="n93"><rect class="b5" x="3929" y="1262" width="130" height="71"/><text x="3994" y="1283.5"><tspan x="3994">gini = 0.0</tspan><tspan x="3994" dy="20">samples = 2</tspan><tspan x="3994" dy="20">value = [0, 1]</tspan></text></g>
<g id="n94"><rect class="o1" x="4083" y="1252" width="205" height="91"/><text x="4185.5" y="1273"><tspan x="4185.5">Sharpe:M-1 &lt;= 1.561</tspan><tspan x="4185.5" dy="20">gini = 0.49</tspan><tspan x="4185.5" dy="20">samples = 6</tspan><tspan x="4185.5" dy="20">value = [0.571, 0.429]</tspan></text></g>
<g id="n95"><rect class="o1" x="4385" y="1252" width="311" height="91"/><text x="4540.5" y="1273"><tspan x="4540.5">Revenue T12M &lt;= 7155450112.0</tspan><tspan x="4540.5" dy="20">gini = 0.444</tspan><tspan x="4540.5" dy="20">samples = 9</tspan><tspan x="4540.5" dy="20">value = [0.667, 0.333]</tspan></text></g>
<g id="n96"><rect class="b4" x="4719" y="1262" width="129" height="71"/><text x="4783.5" y="1283.5"><tspan x="4783.5">gini = 0.0</tspan><tspan x="4783.5" dy="20">samples = 2</tspan><tspan x="4783.5" dy="20">value = [0, 1]</tspan></text></g>
<g id="n97"><rect class="o2" x="4929" y="1262" width="129" height="71"/><text x="4993.5" y="1283.5"><tspan x="4993.5">gini = 0.0</tspan><tspan x="4993.5" dy="20">samples = 6</tspan><tspan x="4993.5" dy="20">value = [1, 0]</tspan></text></g>
<g id="n98"><rect class="b6" x="5083" y="1262" width="128" height="71"/><text x="5147" y="1283.5"><tspan x="5147">gini = 0.0</tspan><tspan x="5147" dy="20">samples = 1</tspan><tspan x="5147" dy="20">value = [0, 1]</tspan></text></g>
<g id="n99"><rect class="o3" x="45" y="1391" width="332" height="91"/><text x="211" y="1412"><tspan x="211">Number of Employees:Y &lt;= 13310.0</tspan><tspan x="211" dy="20">gini = 0.444</tspan><tspan x="211" dy="20">samples = 3</tspan><tspan x="211" dy="20">value = [0.667, 0.333]</tspan></text></g>
<g id="n100"><rect class="b4" x="401" y="1401" width="129" height="71"/><text x="465.5" y="1422.5"><tspan x="465.5">gini = 0.0</tspan><tspan x="465.5" dy="20">samples = 2</tspan><tspan x="465.5" dy="20">value = [0, 1]</tspan></text></g>
<g id="n101"><rect class="o1" x="671" y="1391" width="205" height="91"/><text x="773.5" y="1412"><tspan x="773.5">P/E &lt;= 84.209</tspan><tspan x="773.5" dy="20">gini = 0.305</tspan><tspan x="773.5" dy="20">samples = 11</tspan><tspan x="773.5" dy="20">value = [0.812, 0.188]</tspan></text></g>
<g id="n102"><rect class="w" x="918" y="1391" width="266" height="91"/><text x="1051" y="1412"><tspan x="1051">Net Debt LF &lt;= -83613000.0</tspan><tspan x="1051" dy="20">gini = 0.444</tspan><tspan x="1051" dy="20">samples = 20</tspan><tspan x="1051" dy="20">value = [0.333, 0.667]</tspan></text></g>
<g id="n103"><rect class="w" x="1510" y="1391" width="275" height="91"/><text x="1647.5" y="1412"><tspan x="1647.5">GICS Sector_Materials &lt;= 0.5</tspan><tspan x="1647.5" dy="20">gini = 0.284</tspan><tspan x="1647.5" dy="20">samples = 39</tspan><tspan x="1647.5" dy="20">value = [0.829, 0.171]</tspan></text></g>
<g id="n104"><rect class="b6" x="1810" y="1401" width="129" height="71"/><text x="1874.5" y="1422.5"><tspan x="1874.5">gini = 0.0</tspan><tspan x="1874.5" dy="20">samples = 1</tspan><tspan x="1874.5" dy="20">value = [0, 1]</tspan></text></g>
<g id="n105"><rect class="b5" x="2015" y="1401" width="129" height="71"/><text x="2079.5" y="1422.5"><tspan x="2079.5">gini = 0.0</tspan><tspan x="2079.5" dy="20">samples = 1</tspan><tspan x="2079.5" dy="20">value = [0, 1]</tspan></text></g>
<g id="n106"><rect class="o1" x="2169" y="1391" width="204" height="91"/><text x="2271" y="1412"><tspan x="2271">Beta:M-1 &lt;= 1.087</tspan><tspan x="2271" dy="20">gini = 0.384</tspan><tspan x="2271" dy="20">samples = 16</tspan><tspan x="2271" dy="20">value = [0.741, 0.259]</tspan></text></g>
<g id="n107"><rect class="w" x="2564" y="1391" width="160" height="91"/><text x="2644" y="1412"><tspan x="2644">P/E &lt;= 29.474</tspan><tspan x="2644" dy="20">gini = 0.5</tspan><tspan x="2644" dy="20">samples = 11</tspan><tspan x="2644" dy="20">value = [0.5, 0.5]</tspan></text></g>
<g id="n108"><rect class="o2" x="2749" y="1401" width="130" height="71"/><text x="2814" y="1422.5"><tspan x="2814">gini = 0.0</tspan><tspan x="2814" dy="20">samples = 4</tspan><tspan x="2814" dy="20">value = [1, 0]</tspan></text></g>
<g id="n109"><rect class="b1" x="2910" y="1391" width="206" height="91"/><text x="3013" y="1412"><tspan x="3013">Beta:M-1 &lt;= 1.321</tspan><tspan x="3013" dy="20">gini = 0.08</tspan><tspan x="3013" dy="20">samples = 11</tspan><tspan x="3013" dy="20">value = [0.042, 0.958]</tspan></text></g>
<g id="n110"><rect class="o3" x="3140" y="1391" width="201" height="91"/><text x="3240.5" y="1412"><tspan x="3240.5">Sharpe:M-1 &lt;= 2.324</tspan><tspan x="3240.5" dy="20">gini = 0.375</tspan><tspan x="3240.5" dy="20">samples = 3</tspan><tspan x="3240.5" dy="20">value = [0.75, 0.25]</tspan></text></g>
<g id="n111"><rect class="b3" x="3366" y="1401" width="129" height="71"/><text x="3430.5" y="1422.5"><tspan x="3430.5">gini = 0.0</tspan><tspan x="3430.5" dy="20">samples = 2</tspan><tspan x="3430.5" dy="20">value = [0, 1]</tspan></text></g>
<g id="n112"><rect class="o2" x="3518" y="1391" width="290" height="91"/><text x="3663" y="1412"><tspan x="3663">Net Debt LF &lt;= -4116054528.0</tspan><tspan x="3663" dy="20">gini = 0.346</tspan><tspan x="3663" dy="20">samples = 7</tspan><tspan x="3663" dy="20">value = [0.778, 0.222]</tspan></text></g>
<g id="n113"><rect class="o5" x="3832" y="1401" width="130" height="71"/><text x="3897" y="1422.5"><tspan x="3897">gini = 0.0</tspan><tspan x="3897" dy="20">samples = 3</tspan><tspan x="3897" dy="20">value = [1, 0]</tspan></text></g>
<g id="n114"><rect class="b3" x="3986" y="1391" width="399" height="91"/><text x="4185.5" y="1412"><tspan x="4185.5">GICS Sector_Information Technology &lt;= 0.5</tspan><tspan x="4185.5" dy="20">gini = 0.375</tspan><tspan x="4185.5" dy="20">samples = 3</tspan><tspan x="4185.5" dy="20">value = [0.25, 0.75]</tspan></text></g>
<g id="n115"><rect class="b1" x="4410" y="1391" width="370" height="91"/><text x="4595" y="1412"><tspan x="4595">Revenue per Employee &lt;= 1721473.938</tspan><tspan x="4595" dy="20">gini = 0.444</tspan><tspan x="4595" dy="20">samples = 6</tspan><tspan x="4595" dy="20">value = [0.333, 0.667]</tspan></text></g>
<g id="n116"><rect class="o3" x="4804" y="1401" width="129" height="71"/><text x="4868.5" y="1422.5"><tspan x="4868.5">gini = 0.0</tspan><tspan x="4868.5" dy="20">samples = 3</tspan><tspan x="4868.5" dy="20">value = [1, 0]</tspan></text></g>
<g id="n117"><rect class="o6" x="5" y="1540" width="129" height="71"/><text x="69.5" y="1561.5"><tspan x="69.5">gini = 0.0</tspan><tspan x="69.5" dy="20">samples = 2</tspan><tspan x="69.5" dy="20">value = [1, 0]</tspan></text></g>
<g id="n118"><rect class="b6" x="158" y="1540" width="130" height="71"/><text x="223" y="1561.5"><tspan x="223">gini = 0.0</tspan><tspan x="223" dy="20">samples = 1</tspan><tspan x="223" dy="20">value = [0, 1]</tspan></text></g>
<g id="n119"><rect class="o1" x="317" y="1530" width="300" height="91"/><text x="467" y="1551"><tspan x="467">GICS Sector_Health Care &lt;= 0.5</tspan><tspan x="467" dy="20">gini = 0.142</tspan><tspan x="467" dy="20">samples = 9</tspan><tspan x="467" dy="20">value = [0.923, 0.077]</tspan></text></g>
<g id="n120"><rect class="b3" x="671" y="1530" width="205" height="91"/><text x="773.5" y="1551"><tspan x="773.5">P/E &lt;= 389.766</tspan><tspan x="773.5" dy="20">gini = 0.444</tspan><tspan x="773.5" dy="20">samples = 2</tspan><tspan x="773.5" dy="20">value = [0.333, 0.667]</tspan></text></g>
<g id="n121"><rect class="o4" x="936" y="1540" width="129" height="71"/><text x="1000.5" y="1561.5"><tspan x="1000.5">gini = 0.0</tspan><tspan x="1000.5" dy="20">samples = 4</tspan><tspan x="1000.5" dy="20">value = [1, 0]</tspan></text></g>
<g id="n122"><rect class="b1" x="1090" y="1530" width="205" height="91"/><text x="1192.5" y="1551"><tspan x="1192.5">EPS T12M &lt;= 4.45</tspan><tspan x="1192.5" dy="20">gini = 0.366</tspan><tspan x="1192.5" dy="20">samples = 16</tspan><tspan x="1192.5" dy="20">value = [0.241, 0.759]</tspan></text></g>
<g id="n123"><rect class="w" x="1469" y="1530" width="205" height="91"/><text x="1571.5" y="1551"><tspan x="1571.5">Beta:M-1 &lt;= 1.055</tspan><tspan x="1571.5" dy="20">gini = 0.324</tspan><tspan x="1571.5" dy="20">samples = 33</tspan><tspan x="1571.5" dy="20">value = [0.797, 0.203]</tspan></text></g>
<g id="n124"><rect class="o2" x="1700" y="1540" width="129" height="71"/><text x="1764.5" y="1561.5"><tspan x="1764.5">gini = 0.0</tspan><tspan x="1764.5" dy="20">samples = 6</tspan><tspan x="1764.5" dy="20">value = [1, 0]</tspan></text></g>
<g id="n125"><rect class="b1" x="1853" y="1530" width="404" height="91"/><text x="2055" y="1551"><tspan x="2055">GICS Sector_Consumer Discretionary &lt;= 0.5</tspan><tspan x="2055" dy="20">gini = 0.486</tspan><tspan x="2055" dy="20">samples = 9</tspan><tspan x="2055" dy="20">value = [0.417, 0.583]</tspan></text></g>
<g id="n126"><rect class="o1" x="2281" y="1540" width="129" height="71"/><text x="2345.5" y="1561.5"><tspan x="2345.5">gini = 0.0</tspan><tspan x="2345.5" dy="20">samples = 7</tspan><tspan x="2345.5" dy="20">value = [1, 0]</tspan></text></g>
<g id="n127"><rect class="o4" x="2434" y="1540" width="130" height="71"/><text x="2499" y="1561.5"><tspan x="2499">gini = 0.0</tspan><tspan x="2499" dy="20">samples = 4</tspan><tspan x="2499" dy="20">value = [1, 0]</tspan></text></g>
<g id="n128"><rect class="b2" x="2588" y="1530" width="206" height="91"/><text x="2691" y="1551"><tspan x="2691">Sharpe:M-1 &lt;= -0.557</tspan><tspan x="2691" dy="20">gini = 0.375</tspan><tspan x="2691" dy="20">samples = 7</tspan><tspan x="2691" dy="20">value = [0.25, 0.75]</tspan></text></g>
<g id="n129"><rect class="b2" x="2818" y="1540" width="130" height="71"/><text x="2883" y="1561.5"><tspan x="2883">gini = 0.0</tspan><tspan x="2883" dy="20">samples = 8</tspan><tspan x="2883" dy="20">value = [0, 1]</tspan></text></g>
<g id="n130"><rect class="b3" x="2972" y="1530" width="179" height="91"/><text x="3061.5" y="1551"><tspan x="3061.5">Beta:M-1 &lt;= 1.436</tspan><tspan x="3061.5" dy="20">gini = 0.32</tspan><tspan x="3061.5" dy="20">samples = 3</tspan><tspan x="3061.5" dy="20">value = [0.2, 0.8]</tspan></text></g>
<g id="n131"><rect class="o6" x="3176" y="1540" width="129" height="71"/><text x="3240.5" y="1561.5"><tspan x="3240.5">gini = 0.0</tspan><tspan x="3240.5" dy="20">samples = 1</tspan><tspan x="3240.5" dy="20">value = [1, 0]</tspan></text></g>
<g id="n132"><rect class="w" x="3330" y="1530" width="168" height="91"/><text x="3414" y="1551"><tspan x="3414">Beta:M-1 &lt;= 0.98</tspan><tspan x="3414" dy="20">gini = 0.5</tspan><tspan x="3414" dy="20">samples = 2</tspan><tspan x="3414" dy="20">value = [0.5, 0.5]</tspan></text></g>
<g id="n133"><rect class="b5" x="3561" y="1540" width="130" height="71"/><text x="3626" y="1561.5"><tspan x="3626">gini = 0.0</tspan><tspan x="3626" dy="20">samples = 1</tspan><tspan x="3626" dy="20">value = [0, 1]</tspan></text></g>
<g id="n134"><rect class="o3" x="3715" y="1540" width="129" height="71"/><text x="3779.5" y="1561.5"><tspan x="3779.5">gini = 0.0</tspan><tspan x="3779.5" dy="20">samples = 6</tspan><tspan x="3779.5" dy="20">value = [1, 0]</tspan></text></g>
<g id="n135"><rect class="b4" x="4044" y="1540" width="129" height="71"/><text x="4108.5" y="1561.5"><tspan x="4108.5">gini = 0.0</tspan><tspan x="4108.5" dy="20">samples = 2</tspan><tspan x="4108.5" dy="20">value = [0, 1]</tspan></text></g>
<g id="n136"><rect class="o7" x="4197" y="1540" width="129" height="71"/><text x="4261.5" y="1561.5"><tspan x="4261.5">gini = 0.0</tspan><tspan x="4261.5" dy="20">samples = 1</tspan><tspan x="4261.5" dy="20">value = [1, 0]</tspan></text></g>
<g id="n137"><rect class="b4" x="4435" y="1540" width="129" height="71"/><text x="4499.5" y="1561.5"><tspan x="4499.5">gini = 0.0</tspan><tspan x="4499.5" dy="20">samples = 3</tspan><tspan x="4499.5" dy="20">value = [0, 1]</tspan></text></g>
<g id="n138"><rect class="o3" x="4589" y="1530" width="205" height="91"/><text x="4691.5" y="1551"><tspan x="4691.5">Beta:M-1 &lt;= 0.634</tspan><tspan x="4691.5" dy="20">gini = 0.444</tspan><tspan x="4691.5" dy="20">samples = 3</tspan><tspan x="4691.5" dy="20">value = [0.667, 0.333]</tspan></text></g>
<g id="n139"><rect class="o2" x="221" y="1678" width="129" height="71"/><text x="285.5" y="1699.5"><tspan x="285.5">gini = 0.0</tspan><tspan x="285.5" dy="20">samples = 7</tspan><tspan x="285.5" dy="20">value = [1, 0]</tspan></text></g>
<g id="n140"><rect class="w" x="374" y="1668" width="186" height="91"/><text x="467" y="1689"><tspan x="467">EPS T12M &lt;= 0.51</tspan><tspan x="467" dy="20">gini = 0.5</tspan><tspan x="467" dy="20">samples = 2</tspan><tspan x="467" dy="20">value = [0.5, 0.5]</tspan></text></g>
<g id="n141"><rect class="b5" x="584" y="1678" width="129" height="71"/><text x="648.5" y="1699.5"><tspan x="648.5">gini = 0.0</tspan><tspan x="648.5" dy="20">samples = 1</tspan><tspan x="648.5" dy="20">value = [0, 1]</tspan></text></g>
<g id="n142"><rect class="o7" x="737" y="1678" width="129" height="71"/><text x="801.5" y="1699.5"><tspan x="801.5">gini = 0.0</tspan><tspan x="801.5" dy="20">samples = 1</tspan><tspan x="801.5" dy="20">value = [1, 0]</tspan></text></g>
<g id="n143"><rect class="b1" x="891" y="1668" width="310" height="91"/><text x="1046" y="1689"><tspan x="1046">Revenue T12M &lt;= 2155506432.0</tspan><tspan x="1046" dy="20">gini = 0.302</tspan><tspan x="1046" dy="20">samples = 14</tspan><tspan x="1046" dy="20">value = [0.185, 0.815]</tspan></text></g>
<g id="n144"><rect class="o6" x="1224" y="1678" width="130" height="71"/><text x="1289" y="1699.5"><tspan x="1289">gini = 0.0</tspan><tspan x="1289" dy="20">samples = 2</tspan><tspan x="1289" dy="20">value = [1, 0]</tspan></text></g>
<g id="n145"><rect class="o1" x="1417" y="1668" width="311" height="91"/><text x="1572.5" y="1689"><tspan x="1572.5">Revenue T12M &lt;= 1356316480.0</tspan><tspan x="1572.5" dy="20">gini = 0.147</tspan><tspan x="1572.5" dy="20">samples = 15</tspan><tspan x="1572.5" dy="20">value = [0.92, 0.08]</tspan></text></g>
<g id="n146"><rect class="w" x="1755" y="1668" width="205" height="91"/><text x="1857.5" y="1689"><tspan x="1857.5">Beta:M-1 &lt;= 1.122</tspan><tspan x="1857.5" dy="20">gini = 0.415</tspan><tspan x="1857.5" dy="20">samples = 18</tspan><tspan x="1857.5" dy="20">value = [0.706, 0.294]</tspan></text></g>
<g id="n147"><rect class="b3" x="1989" y="1678" width="129" height="71"/><text x="2053.5" y="1699.5"><tspan x="2053.5">gini = 0.0</tspan><tspan x="2053.5" dy="20">samples = 4</tspan><tspan x="2053.5" dy="20">value = [0, 1]</tspan></text></g>
<g id="n148"><rect class="o3" x="2143" y="1678" width="129" height="71"/><text x="2207.5" y="1699.5"><tspan x="2207.5">gini = 0.0</tspan><tspan x="2207.5" dy="20">samples = 5</tspan><tspan x="2207.5" dy="20">value = [1, 0]</tspan></text></g>
<g id="n149"><rect class="b4" x="2497" y="1678" width="129" height="71"/><text x="2561.5" y="1699.5"><tspan x="2561.5">gini = 0.0</tspan><tspan x="2561.5" dy="20">samples = 2</tspan><tspan x="2561.5" dy="20">value = [0, 1]</tspan></text></g>
<g id="n150"><rect class="b2" x="2651" y="1668" width="178" height="91"/><text x="2740" y="1689"><tspan x="2740">Beta:M-1 &lt;= 1.371</tspan><tspan x="2740" dy="20">gini = 0.48</tspan><tspan x="2740" dy="20">samples = 5</tspan><tspan x="2740" dy="20">value = [0.4, 0.6]</tspan></text></g>
<g id="n151"><rect class="o7" x="2927" y="1678" width="129" height="71"/><text x="2991.5" y="1699.5"><tspan x="2991.5">gini = 0.0</tspan><tspan x="2991.5" dy="20">samples = 1</tspan><tspan x="2991.5" dy="20">value = [1, 0]</tspan></text></g>
<g id="n152"><rect class="b4" x="3080" y="1678" width="129" height="71"/><text x="3144.5" y="1699.5"><tspan x="3144.5">gini = 0.0</tspan><tspan x="3144.5" dy="20">samples = 2</tspan><tspan x="3144.5" dy="20">value = [0, 1]</tspan></text></g>
<g id="n153"><rect class="o7" x="3327" y="1678" width="129" height="71"/><text x="3391.5" y="1699.5"><tspan x="3391.5">gini = 0.0</tspan><tspan x="3391.5" dy="20">samples = 1</tspan><tspan x="3391.5" dy="20">value = [1, 0]</tspan></text></g>
<g id="n154"><rect class="b6" x="3480" y="1678" width="129" height="71"/><text x="3544.5" y="1699.5"><tspan x="3544.5">gini = 0.0</tspan><tspan x="3544.5" dy="20">samples = 1</tspan><tspan x="3544.5" dy="20">value = [0, 1]</tspan></text></g>
<g id="n155"><rect class="b6" x="4550" y="1678" width="129" height="71"/><text x="4614.5" y="1699.5"><tspan x="4614.5">gini = 0.0</tspan><tspan x="4614.5" dy="20">samples = 1</tspan><tspan x="4614.5" dy="20">value = [0, 1]</tspan></text></g>
<g id="n156"><rect class="o6" x="4703" y="1678" width="129" height="71"/><text x="4767.5" y="1699.5"><tspan x="4767.5">gini = 0.0</tspan><tspan x="4767.5" dy="20">samples = 2</tspan><tspan x="4767.5" dy="20">value = [1, 0]</tspan></text></g>
<g id="n157"><rect class="b6" x="250" y="1817" width="129" height="71"/><text x="314.5" y="1838.5"><tspan x="314.5">gini = 0.0</tspan><tspan x="314.5" dy="20">samples = 1</tspan><tspan x="314.5" dy="20">value = [0, 1]</tspan></text></g>
<g id="n158"><rect class="o7" x="403" y="1817" width="129" height="71"/><text x="467.5" y="1838.5"><tspan x="467.5">gini = 0.0</tspan><tspan x="467.5" dy="20">samples = 1</tspan><tspan x="467.5" dy="20">value = [1, 0]</tspan></text></g>
<g id="n159"><rect class="b1" x="557" y="1807" width="285" height="91"/><text x="699.5" y="1828"><tspan x="699.5">GICS Sector_Financials &lt;= 0.5</tspan><tspan x="699.5" dy="20">gini = 0.165</tspan><tspan x="699.5" dy="20">samples = 12</tspan><tspan x="699.5" dy="20">value = [0.091, 0.909]</tspan></text></g>
<g id="n160"><rect class="o1" x="866" y="1807" width="358" height="91"/><text x="1045" y="1828"><tspan x="1045">Revenue per Employee &lt;= 275898.961</tspan><tspan x="1045" dy="20">gini = 0.48</tspan><tspan x="1045" dy="20">samples = 2</tspan><tspan x="1045" dy="20">value = [0.6, 0.4]</tspan></text></g>
<g id="n161"><rect class="b3" x="1250" y="1807" width="358" height="91"/><text x="1429" y="1828"><tspan x="1429">Revenue per Employee &lt;= 145120.543</tspan><tspan x="1429" dy="20">gini = 0.444</tspan><tspan x="1429" dy="20">samples = 2</tspan><tspan x="1429" dy="20">value = [0.333, 0.667]</tspan></text></g>
<g id="n162"><rect class="o1" x="1632" y="1817" width="137" height="71"/><text x="1700.5" y="1838.5"><tspan x="1700.5">gini = 0.0</tspan><tspan x="1700.5" dy="20">samples = 13</tspan><tspan x="1700.5" dy="20">value = [1, 0]</tspan></text></g>
<g id="n163"><rect class="b4" x="1793" y="1817" width="129" height="71"/><text x="1857.5" y="1838.5"><tspan x="1857.5">gini = 0.0</tspan><tspan x="1857.5" dy="20">samples = 3</tspan><tspan x="1857.5" dy="20">value = [0, 1]</tspan></text></g>
<g id="n164"><rect class="o1" x="1946" y="1807" width="279" height="91"/><text x="2085.5" y="1828"><tspan x="2085.5">Net Debt LF &lt;= -228292504.0</tspan><tspan x="2085.5" dy="20">gini = 0.32</tspan><tspan x="2085.5" dy="20">samples = 15</tspan><tspan x="2085.5" dy="20">value = [0.8, 0.2]</tspan></text></g>
<g id="n165"><rect class="b3" x="2494" y="1807" width="181" height="91"/><text x="2584.5" y="1828"><tspan x="2584.5">P/E &lt;= 94.104</tspan><tspan x="2584.5" dy="20">gini = 0.375</tspan><tspan x="2584.5" dy="20">samples = 4</tspan><tspan x="2584.5" dy="20">value = [0.25, 0.75]</tspan></text></g>
<g id="n166"><rect class="o7" x="2700" y="1817" width="129" height="71"/><text x="2764.5" y="1838.5"><tspan x="2764.5">gini = 0.0</tspan><tspan x="2764.5" dy="20">samples = 1</tspan><tspan x="2764.5" dy="20">value = [1, 0]</tspan></text></g>
<g id="n167"><rect class="b1" x="482" y="1946" width="128" height="71"/><text x="546" y="1967.5"><tspan x="546">gini = 0.0</tspan><tspan x="546" dy="20">samples = 9</tspan><tspan x="546" dy="20">value = [0, 1]</tspan></text></g>
<g id="n168"><rect class="o3" x="635" y="1946" width="205" height="71"/><text x="737.5" y="1967.5"><tspan x="737.5">gini = 0.444</tspan><tspan x="737.5" dy="20">samples = 3</tspan><tspan x="737.5" dy="20">value = [0.667, 0.333]</tspan></text></g>
<g id="n169"><rect class="o5" x="943" y="1946" width="129" height="71"/><text x="1007.5" y="1967.5"><tspan x="1007.5">gini = 0.0</tspan><tspan x="1007.5" dy="20">samples = 1</tspan><tspan x="1007.5" dy="20">value = [1, 0]</tspan></text></g>
<g id="n170"><rect class="b5" x="1096" y="1946" width="128" height="71"/><text x="1160" y="1967.5"><tspan x="1160">gini = 0.0</tspan><tspan x="1160" dy="20">samples = 1</tspan><tspan x="1160" dy="20">value = [0, 1]</tspan></text></g>
<g id="n171"><rect class="o7" x="1327" y="1946" width="129" height="71"/><text x="1391.5" y="1967.5"><tspan x="1391.5">gini = 0.0</tspan><tspan x="1391.5" dy="20">samples = 1</tspan><tspan x="1391.5" dy="20">value = [1, 0]</tspan></text></g>
<g id="n172"><rect class="b5" x="1480" y="1946" width="129" height="71"/><text x="1544.5" y="1967.5"><tspan x="1544.5">gini = 0.0</tspan><tspan x="1544.5" dy="20">samples = 1</tspan><tspan x="1544.5" dy="20">value = [0, 1]</tspan></text></g>
<g id="n173"><rect class="b3" x="2009" y="1946" width="130" height="71"/><text x="2074" y="1967.5"><tspan x="2074">gini = 0.0</tspan><tspan x="2074" dy="20">samples = 4</tspan><tspan x="2074" dy="20">value = [0, 1]</tspan></text></g>
<g id="n174"><rect class="o1" x="2162" y="1946" width="138" height="71"/><text x="2231" y="1967.5"><tspan x="2231">gini = 0.0</tspan><tspan x="2231" dy="20">samples = 11</tspan><tspan x="2231" dy="20">value = [1, 0]</tspan></text></g>
<g id="n175"><rect class="b4" x="2379" y="1946" width="128" height="71"/><text x="2443" y="1967.5"><tspan x="2443">gini = 0.0</tspan><tspan x="2443" dy="20">samples = 3</tspan><tspan x="2443" dy="20">value = [0, 1]</tspan></text></g>
<g id="n176"><rect class="o7" x="2532" y="1946" width="129" height="71"/><text x="2596.5" y="1967.5"><tspan x="2596.5">gini = 0.0</tspan><tspan x="2596.5" dy="20">samples = 1</tspan><tspan x="2596.5" dy="20">value = [1, 0]</tspan></text></g>
</g>
</svg>
